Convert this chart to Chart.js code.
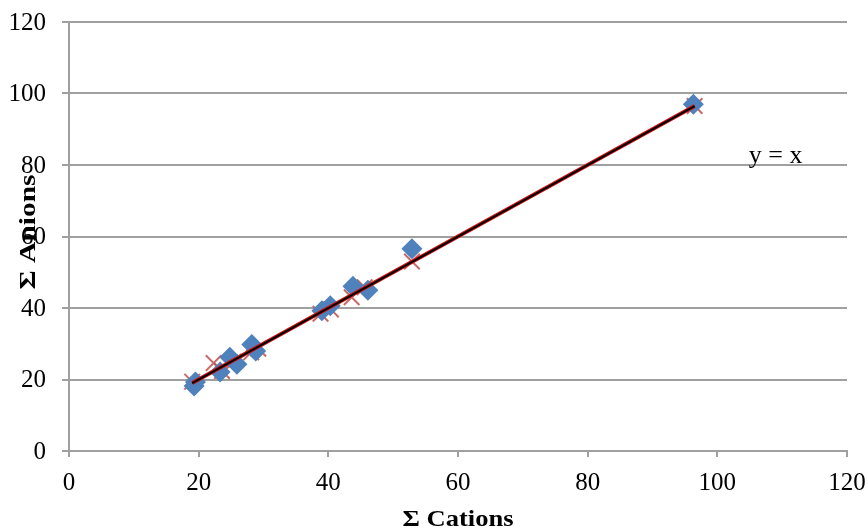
<!DOCTYPE html>
<html>
<head>
<meta charset="utf-8">
<script src="https://cdn.jsdelivr.net/npm/chart.js@4"></script>
<style>
  html, body { margin: 0; padding: 0; background: #fff; }
  #wrap { width: 868px; height: 531px; }
</style>
</head>
<body>
<div id="wrap"><canvas id="chart"></canvas></div>
<script>
// measured points: sum of cations (x) vs sum of anions (y)
const cations = [19.3, 19.5, 23.3, 24.8, 25.9, 28.2, 28.8, 39.0, 40.3, 43.8, 46.1, 52.9, 96.3];
const anions  = [18.2, 19.3, 22.1, 26.2, 24.3, 29.8, 28.0, 39.2, 40.6, 46.1, 45.0, 56.6, 97.0];

// red cross series
const crossX = [19.0, 22.3, 23.6, 25.4, 28.1, 29.2, 38.8, 40.4, 43.6, 45.6, 52.9, 96.5];
const crossY = [19.4, 24.6, 22.4, 25.0, 27.6, 28.6, 38.4, 39.6, 43.0, 45.8, 53.0, 96.5];

// y = x reference line
const lineX = [19, 96.5];
const lineY = [19, 96.5];

const axisMin = 0, axisMax = 120, axisStep = 20;
const xTitle = 'Σ Cations';
const yTitle = 'Σ Anions';
const lineLabel = 'y = x';

const FONT = '"Liberation Serif", "Times New Roman", serif';

const pts = (xs, ys) => xs.map((x, i) => ({ x: x, y: ys[i] }));

// text drawn here so sizes and spots follow the original closely
const extras = {
    id: 'extras',
    afterDraw(chart) {
        const ctx = chart.ctx;
        const xs = chart.scales.x, ys = chart.scales.y;
        ctx.save();
        ctx.fillStyle = '#000';
        ctx.font = '25px ' + FONT;
        ctx.textBaseline = 'middle';
        ctx.textAlign = 'right';
        ys.ticks.forEach(t => ctx.fillText(String(t.value), 46, ys.getPixelForValue(t.value) + 1));
        ctx.textAlign = 'center';
        xs.ticks.forEach(t => ctx.fillText(String(t.value), xs.getPixelForValue(t.value), 483));

        // y = x label
        ctx.font = '26px ' + FONT;
        ctx.fillText(lineLabel, xs.getPixelForValue(109), ys.getPixelForValue(82.4));

        // axis titles
        ctx.font = 'bold 24px ' + FONT;
        let w = ctx.measureText(xTitle).width;
        ctx.save();
        ctx.translate(458, 520);
        ctx.scale(111 / w, 1);
        ctx.fillText(xTitle, 0, 0);
        ctx.restore();

        w = ctx.measureText(yTitle).width;
        ctx.save();
        ctx.translate(29, 232);
        ctx.rotate(-Math.PI / 2);
        ctx.scale(115 / w, 1);
        ctx.fillText(yTitle, 0, 0);
        ctx.restore();
        ctx.restore();
    }
};

new Chart(document.getElementById('chart'), {
    type: 'scatter',
    data: {
        datasets: [
            {
                type: 'line',
                label: 'y=x black',
                data: pts(lineX, lineY),
                borderColor: '#000',
                borderWidth: 2,
                pointRadius: 0,
                order: 0
            },
            {
                type: 'line',
                label: 'y=x red',
                data: pts(lineX, lineY),
                borderColor: '#d01010',
                borderWidth: 4,
                pointRadius: 0,
                order: 1
            },
            {
                label: 'Anions',
                data: pts(cations, anions),
                pointStyle: 'rectRot',
                pointRadius: 10.5,
                backgroundColor: '#4f81bd',
                borderColor: '#4f81bd',
                borderWidth: 0,
                order: 2
            },
            {
                label: 'Cations',
                data: pts(crossX, crossY),
                pointStyle: 'crossRot',
                pointRadius: 11,
                borderColor: 'rgba(192,80,77,0.85)',
                borderWidth: 2,
                order: 3
            }
        ]
    },
    options: {
        responsive: true,
        maintainAspectRatio: false,
        animation: false,
        layout: { padding: { top: 22, right: 21, left: 0, bottom: 0 } },
        plugins: { legend: { display: false }, tooltip: { enabled: false } },
        scales: {
            x: {
                type: 'linear',
                min: axisMin, max: axisMax,
                afterFit(scale) { scale.height = 80; },
                ticks: { stepSize: axisStep, display: false },
                grid: { drawOnChartArea: false, drawTicks: true, tickLength: 6, color: '#a0a0a0', lineWidth: 2 },
                border: { color: '#a0a0a0', width: 2 }
            },
            y: {
                type: 'linear',
                min: axisMin, max: axisMax,
                afterFit(scale) { scale.width = 69; },
                ticks: { stepSize: axisStep, display: false },
                grid: { drawTicks: true, tickLength: 7, color: '#a0a0a0', lineWidth: 2 },
                border: { color: '#a0a0a0', width: 2 }
            }
        }
    },
    plugins: [extras]
});
</script>
</body>
</html>
